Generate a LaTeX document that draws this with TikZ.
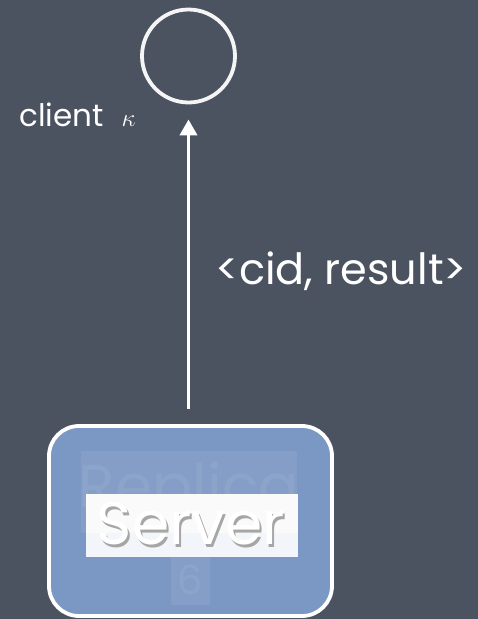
\documentclass[tikz,border=0pt]{standalone}
\usepackage{fontspec}
\setmainfont{Poppins}
\usetikzlibrary{arrows.meta}
\definecolor{bg}{HTML}{4B5260}
\definecolor{boxblue}{HTML}{7B97C3}
\definecolor{ghost}{HTML}{8BA4CB}
\tikzset{
  x=1pt,y=-1pt,
  lbl/.style={text=white,inner sep=0pt,anchor=base west},
}
\begin{document}
\begin{tikzpicture}
\fill[bg] (0,0) rectangle (478,619);
\useasboundingbox (0,0) rectangle (478,619);
% client
\node[circle,draw=white!92!gray,line width=3.8pt,minimum size=93pt,inner sep=0pt] (client) at (188.5,56) {};
\node[lbl,font=\fontsize{31}{31}\selectfont] (clientlbl) at (19,126) {client\hspace{18pt}{\fontsize{24}{24}\selectfont$\kappa$}};
% server
\node[draw=white,line width=3.8pt,fill=boxblue,rounded corners=30pt,minimum width=283pt,minimum height=190pt,inner sep=0pt] (server) at (190.5,521) {};
\fill[ghost,opacity=0.6] (81,451) rectangle (297,533);
\fill[ghost,opacity=0.6] (171,557) rectangle (210,605);
\node[text=white,opacity=0.07,font=\fontsize{60}{60}\selectfont,inner sep=0pt] (ghosttxt) at (189,492) {Replica};
\node[text=white,opacity=0.07,font=\fontsize{40}{40}\selectfont,inner sep=0pt] (ghostsix) at (190,580) {6};
\fill[white!96!gray] (86,494) rectangle (298,533);
\fill[white!90!boxblue] (86,533) rectangle (298,557);
\node[text=gray!70,font=\fontsize{60}{60}\selectfont,inner sep=0pt] at (193,527) {Server};
\node[text=white,font=\fontsize{60}{60}\selectfont,inner sep=0pt] (serverlbl) at (191,524) {Server};
% arrow
\draw[white,line width=3.8pt,-{Triangle[length=16pt,width=17pt]},shorten <=15pt,shorten >=15pt] (server.north -| client.south) -- (client.south);
\node[lbl,font=\fontsize{43}{43}\selectfont] (msg) at (215,284) {<cid, result>};
\end{tikzpicture}
\end{document}
